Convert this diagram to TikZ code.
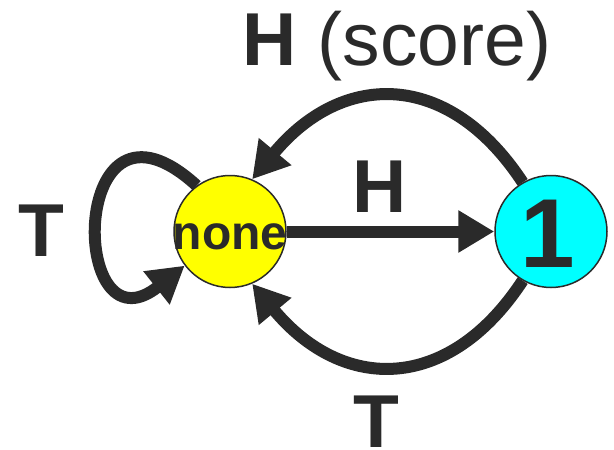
\documentclass[tikz,border=0pt]{standalone}
\usepackage{fontspec}
\setmainfont{Liberation Sans}
\usetikzlibrary{arrows.meta}
\definecolor{ink}{HTML}{2A2A2A}
\definecolor{aqua}{HTML}{00FFFF}
\definecolor{yel}{HTML}{FFFF00}
\begin{document}
\begin{tikzpicture}[x=1pt,y=-1pt,
  state/.style={circle,draw=ink,line width=1.5pt,minimum size=112pt,inner sep=0pt,text=ink},
  edge/.style={draw=ink,line width=12pt,-{Triangle[length=36pt,width=40pt]}},
  lbl/.style={text=ink,anchor=base,inner sep=0pt}]
\useasboundingbox (0,0) rectangle (614,450);
\node[state,fill=yel] (none) at (230,231.5) {};
\node[lbl] (nonetext) at (230,249) {\fontsize{48}{48}\selectfont\bfseries none};
\node[state,fill=aqua] (one) at (551,231.5) {};
\node[lbl] (onetext) at (548,267) {\fontsize{98}{98}\selectfont\bfseries 1};
\draw[edge] (none) -- (one);
\draw[edge] (one.120) .. controls (449,70) and (343,70) .. (none.67);
\draw[edge] (one.240) .. controls (449,393) and (343,393) .. (none.293);
\draw[edge] (none.126) .. controls (68,68) and (68,358) .. (none.217);
\node[lbl] (ttop) at (397,65) {\fontsize{75}{75}\selectfont\textbf{H} (score)};
\node[lbl] (hmid) at (380,212) {\fontsize{75}{75}\selectfont\bfseries H};
\node[lbl] (tleft) at (41,256) {\fontsize{75}{75}\selectfont\bfseries T};
\node[lbl] (tbot) at (376,447) {\fontsize{75}{75}\selectfont\bfseries T};
\end{tikzpicture}
\end{document}
